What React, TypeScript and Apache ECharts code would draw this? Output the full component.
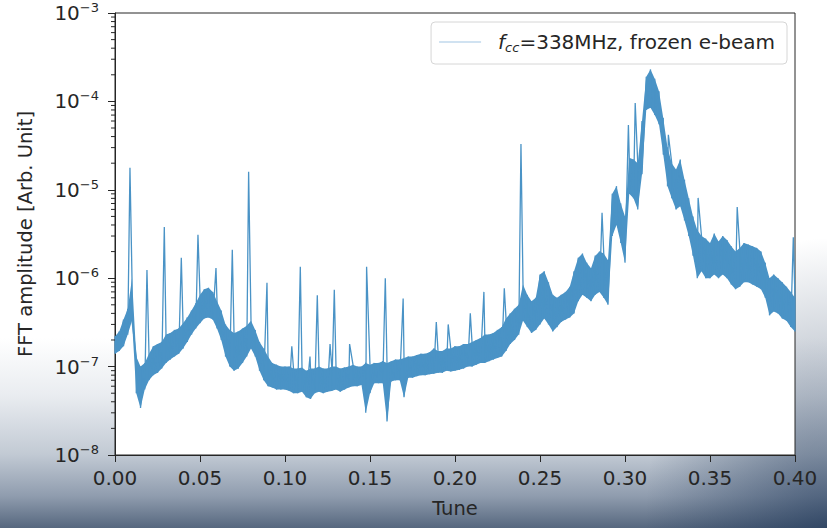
import React, { useEffect, useRef } from "react";
import * as echarts from "echarts";

// Spectrum sampled on a regular tune grid; each sample holds the upper and
// lower edge of the noise band at that tune.
const TUNE_STEP = 0.0025;

const bandHigh: number[] = [
  2.2e-7, 2.5e-7, 3.4e-7, 4.5e-7, 1.0e-6, 1.3e-7, 1.0e-7, 1.1e-7, 1.4e-7, 1.7e-7,
  1.8e-7, 1.9e-7, 2.3e-7, 2.4e-7, 2.6e-7, 2.7e-7, 3.1e-7, 3.6e-7, 4.3e-7, 5.2e-7,
  6.5e-7, 7.5e-7, 7.8e-7, 7.0e-7, 5.5e-7, 4.3e-7, 3.0e-7, 2.6e-7, 2.4e-7, 2.5e-7,
  2.7e-7, 2.9e-7, 3.3e-7, 2.6e-7, 1.9e-7, 1.6e-7, 1.3e-7, 1.1e-7, 1.05e-7, 1.0e-7,
  1.0e-7, 1.0e-7, 9.5e-8, 9.5e-8, 9.8e-8, 9.0e-8, 9.5e-8, 9.5e-8, 1.0e-7, 9.5e-8,
  9.5e-8, 1.0e-7, 1.0e-7, 9.5e-8, 9.8e-8, 1.0e-7, 1.05e-7, 1.0e-7, 1.0e-7, 1.1e-7,
  1.05e-7, 1.1e-7, 1.1e-7, 1.15e-7, 1.1e-7, 1.15e-7, 1.2e-7, 1.2e-7, 1.25e-7, 1.3e-7,
  1.3e-7, 1.35e-7, 1.4e-7, 1.4e-7, 1.45e-7, 1.6e-7, 1.5e-7, 1.5e-7, 1.6e-7, 1.6e-7,
  1.7e-7, 1.7e-7, 1.8e-7, 1.8e-7, 1.9e-7, 2.0e-7, 2.1e-7, 2.3e-7, 2.3e-7, 2.4e-7,
  2.6e-7, 2.8e-7, 3.5e-7, 4.0e-7, 4.5e-7, 5.0e-7, 8.5e-7, 6.5e-7, 5.5e-7, 6.0e-7,
  1.1e-6, 1.2e-6, 9.0e-7, 6.5e-7, 6.0e-7, 6.5e-7, 7.0e-7, 8.0e-7, 1.2e-6, 1.7e-6,
  1.9e-6, 1.5e-6, 1.3e-6, 1.8e-6, 2.0e-6, 1.9e-6, 1.6e-6, 9.0e-6, 1.1e-5, 7.0e-6,
  5.0e-6, 2.3e-5, 2.2e-5, 2.0e-5, 6.0e-5, 1.9e-4, 2.3e-4, 1.8e-4, 1.3e-4, 6.5e-5,
  3.0e-5, 2.0e-5, 1.7e-5, 2.2e-5, 1.3e-5, 8.0e-6, 5.0e-6, 3.5e-6, 3.0e-6, 2.8e-6,
  2.5e-6, 3.2e-6, 2.6e-6, 3.0e-6, 2.7e-6, 2.3e-6, 2.0e-6, 2.2e-6, 2.5e-6, 2.4e-6,
  2.3e-6, 2.2e-6, 2.0e-6, 1.5e-6, 1.0e-6, 1.1e-6, 1.0e-6, 9.0e-7, 8.0e-7, 7.0e-7,
  6.0e-7,
];

const bandLow: number[] = [
  1.4e-7, 1.5e-7, 1.7e-7, 2.3e-7, 3.3e-7, 5.0e-8, 3.4e-8, 5.5e-8, 7.0e-8, 8.0e-8,
  8.5e-8, 9.5e-8, 1.1e-7, 1.2e-7, 1.3e-7, 1.4e-7, 1.6e-7, 1.9e-7, 2.3e-7, 2.7e-7,
  3.1e-7, 3.5e-7, 3.6e-7, 3.4e-7, 2.7e-7, 2.0e-7, 1.3e-7, 1.0e-7, 9.0e-8, 9.5e-8,
  1.1e-7, 1.3e-7, 1.6e-7, 1.3e-7, 9.0e-8, 7.0e-8, 6.0e-8, 5.8e-8, 5.5e-8, 5.5e-8,
  5.5e-8, 5.3e-8, 5.0e-8, 5.0e-8, 5.2e-8, 4.5e-8, 4.3e-8, 5.0e-8, 5.2e-8, 5.0e-8,
  5.2e-8, 5.3e-8, 5.5e-8, 5.2e-8, 5.5e-8, 5.8e-8, 6.0e-8, 6.0e-8, 6.2e-8, 3.0e-8,
  5.0e-8, 6.5e-8, 6.5e-8, 6.5e-8, 2.4e-8, 6.8e-8, 7.0e-8, 7.0e-8, 4.5e-8, 7.5e-8,
  7.5e-8, 7.8e-8, 8.0e-8, 8.0e-8, 8.2e-8, 8.3e-8, 8.5e-8, 8.5e-8, 9.0e-8, 8.8e-8,
  9.0e-8, 9.2e-8, 9.5e-8, 1.0e-7, 1.0e-7, 1.05e-7, 1.1e-7, 1.1e-7, 1.15e-7, 1.2e-7,
  1.25e-7, 1.3e-7, 1.5e-7, 1.8e-7, 2.0e-7, 2.3e-7, 3.3e-7, 2.8e-7, 2.4e-7, 2.6e-7,
  3.0e-7, 3.5e-7, 3.0e-7, 2.5e-7, 2.8e-7, 3.2e-7, 3.4e-7, 3.6e-7, 4.0e-7, 5.5e-7,
  6.5e-7, 6.0e-7, 5.5e-7, 6.5e-7, 7.0e-7, 6.0e-7, 5.0e-7, 3.0e-6, 4.0e-6, 2.5e-6,
  1.5e-6, 9.0e-6, 8.0e-6, 6.0e-6, 1.5e-5, 8.0e-5, 8.5e-5, 7.0e-5, 5.5e-5, 2.5e-5,
  1.1e-5, 8.0e-6, 6.0e-6, 6.5e-6, 4.5e-6, 3.0e-6, 1.8e-6, 1.0e-6, 1.2e-6, 1.0e-6,
  1.0e-6, 1.1e-6, 1.0e-6, 1.1e-6, 1.0e-6, 8.5e-7, 7.5e-7, 8.0e-7, 9.0e-7, 9.0e-7,
  8.5e-7, 8.0e-7, 7.5e-7, 6.0e-7, 3.8e-7, 4.2e-7, 4.0e-7, 3.5e-7, 3.3e-7, 2.8e-7,
  2.5e-7,
];

// Narrow lines standing above the band: [tune, amplitude]
const spikes: [number, number][] = [
  [0.0088, 1.77e-5], [0.0188, 1.24e-6], [0.029, 3.8e-6], [0.039, 1.7e-6],
  [0.0488, 3.1e-6], [0.0594, 1.3e-6], [0.069, 2.1e-6], [0.0786, 1.6e-5],
  [0.0894, 8.9e-7], [0.104, 1.7e-7], [0.109, 1.35e-6], [0.1147, 1.3e-7],
  [0.119, 6.4e-7], [0.1265, 1.8e-7], [0.129, 7.4e-7], [0.138, 1.8e-7],
  [0.148, 1.35e-6], [0.159, 1.0e-6], [0.1695, 5.9e-7], [0.189, 3.2e-7],
  [0.196, 3.0e-7], [0.209, 4.0e-7], [0.217, 7.0e-7], [0.229, 7.7e-7],
  [0.2388, 3.3e-5], [0.2865, 5.5e-6], [0.302, 5.4e-5], [0.306, 9.6e-5],
  [0.3255, 4.2e-5], [0.343, 8.1e-6], [0.366, 6.4e-6], [0.399, 2.9e-6],
];

const SERIES_NAME = "fcc=338MHz, frozen e-beam";
const X_MIN = 0;
const X_MAX = 0.4;
const X_INTERVAL = 0.05;
const Y_MIN = 1e-8;
const Y_MAX = 1e-3;

const LINE_COLOR = "#4a93c6";
const INK = "#262626";
const FONT = "DejaVu Sans";

const tuneAt = (i: number) => +(i * TUNE_STEP).toFixed(4);

// Zig-zag trace through the band edges, with the spikes merged in by tune.
function buildTrace(): [number, number][] {
  const pts: [number, number][] = [];
  bandHigh.forEach((hi, i) => {
    const t = tuneAt(i);
    pts.push([t, hi], [t, bandLow[i]]);
  });
  spikes.forEach((s) => pts.push([s[0], s[1]]));
  return pts.sort((a, b) => a[0] - b[0]);
}

// Log-axis minor tick positions (2..9 × 10^k)
function minorTicks(): number[] {
  const out: number[] = [];
  for (let e = -8; e < -3; e++) {
    for (let m = 2; m <= 9; m++) out.push(m * Math.pow(10, e));
  }
  return out;
}

export default function App() {
  const ref = useRef<HTMLDivElement>(null);

  useEffect(() => {
    if (!ref.current) return;
    const chart = echarts.init(ref.current, undefined, { renderer: "svg" });

    const option: any = {
      animation: false,
      backgroundColor: "transparent",
      grid: {
        left: 115,
        right: 32,
        top: 13,
        bottom: 73,
        show: true,
        backgroundColor: "#ffffff",
        borderColor: INK,
        borderWidth: 1,
      },
      legend: {
        right: 40,
        top: 22,
        orient: "horizontal",
        itemWidth: 42,
        itemHeight: 14,
        padding: [10, 12, 10, 8],
        backgroundColor: "#ffffff",
        borderColor: "#d6d6d6",
        borderWidth: 1,
        borderRadius: 4,
        data: [
          {
            name: SERIES_NAME,
            icon: "path://M0,0 L42,0 L42,1 L0,1 Z",
            itemStyle: { color: "#a2c6e3" },
          },
        ],
        formatter: () => "{g|}{i|f}{s|cc}{t|=338MHz, frozen e-beam}",
        textStyle: {
          color: INK,
          fontFamily: FONT,
          rich: {
            g: { width: 12 },
            i: { fontFamily: FONT, fontStyle: "italic", fontSize: 20, lineHeight: 24, color: INK },
            s: {
              fontFamily: FONT,
              fontStyle: "italic",
              fontSize: 13,
              lineHeight: 13,
              verticalAlign: "bottom",
              color: INK,
            },
            t: { fontFamily: FONT, fontSize: 20, lineHeight: 24, color: INK },
          },
        },
      },
      xAxis: {
        type: "value",
        min: X_MIN,
        max: X_MAX,
        interval: X_INTERVAL,
        name: "Tune",
        nameLocation: "middle",
        nameGap: 43,
        nameTextStyle: { fontFamily: FONT, fontSize: 19.5, color: INK },
        axisLine: { show: true, lineStyle: { color: INK, width: 1 } },
        axisTick: { show: true, inside: false, length: 7, lineStyle: { color: INK } },
        axisLabel: {
          fontFamily: FONT,
          fontSize: 20,
          color: INK,
          margin: 13,
          formatter: (v: number) => v.toFixed(2),
        },
        splitLine: { show: false },
      },
      yAxis: {
        type: "log",
        logBase: 10,
        min: Y_MIN,
        max: Y_MAX,
        name: "FFT amplitude [Arb. Unit]",
        nameLocation: "middle",
        nameGap: 80,
        nameRotate: 90,
        nameTextStyle: { fontFamily: FONT, fontSize: 19.5, color: INK },
        axisLine: { show: true, lineStyle: { color: INK, width: 1 } },
        axisTick: { show: true, length: 7, lineStyle: { color: INK } },
        axisLabel: {
          margin: 16,
          formatter: (v: number) => {
            const e = Math.round(Math.log10(v));
            return "{b|10}{s|\u2212" + Math.abs(e) + "}";
          },
          rich: {
            b: { fontFamily: FONT, fontSize: 20, lineHeight: 24, color: INK },
            s: { fontFamily: FONT, fontSize: 13, lineHeight: 13, verticalAlign: "top", color: INK },
          },
        },
        splitLine: { show: false },
      },
      series: [
        {
          // solid fill between the band edges
          type: "custom",
          silent: true,
          z: 2,
          data: [[bandHigh.length, bandHigh[0]]],
          renderItem: (_p: any, api: any) => {
            const top = bandHigh.map((v, i) => api.coord([tuneAt(i), v]));
            const bottom = bandLow.map((v, i) => api.coord([tuneAt(i), v])).reverse();
            return {
              type: "polygon",
              shape: { points: top.concat(bottom) },
              style: { fill: LINE_COLOR },
            };
          },
        },
        {
          name: SERIES_NAME,
          type: "line",
          z: 3,
          data: buildTrace(),
          symbol: "none",
          showSymbol: false,
          lineStyle: { color: LINE_COLOR, width: 1.3 },
          itemStyle: { color: LINE_COLOR },
          clip: true,
        },
        {
          // minor ticks on the log axis
          type: "custom",
          silent: true,
          z: 4,
          data: minorTicks().map((v) => [X_MIN, v]),
          renderItem: (_p: any, api: any) => {
            const p = api.coord([api.value(0), api.value(1)]);
            return {
              type: "line",
              shape: { x1: p[0] - 4, y1: p[1], x2: p[0], y2: p[1] },
              style: { stroke: INK, lineWidth: 1 },
            };
          },
        },
      ],
    };

    chart.setOption(option);
    return () => chart.dispose();
  }, []);

  return (
    <div
      style={{
        position: "fixed",
        left: 0,
        top: 0,
        width: 827,
        height: 528,
        background:
          "radial-gradient(ellipse 22% 55% at 100% 100%, rgba(20,45,80,0.55), rgba(20,45,80,0) 100%)," +
          "linear-gradient(to bottom, #ffffff 0%, #ffffff 64%, #e9ecf0 75%, #c2cad4 86%, #8f9cae 94%, #56677e 100%)",
      }}
    >
      <div ref={ref} style={{ width: 827, height: 528 }} />
    </div>
  );
}
